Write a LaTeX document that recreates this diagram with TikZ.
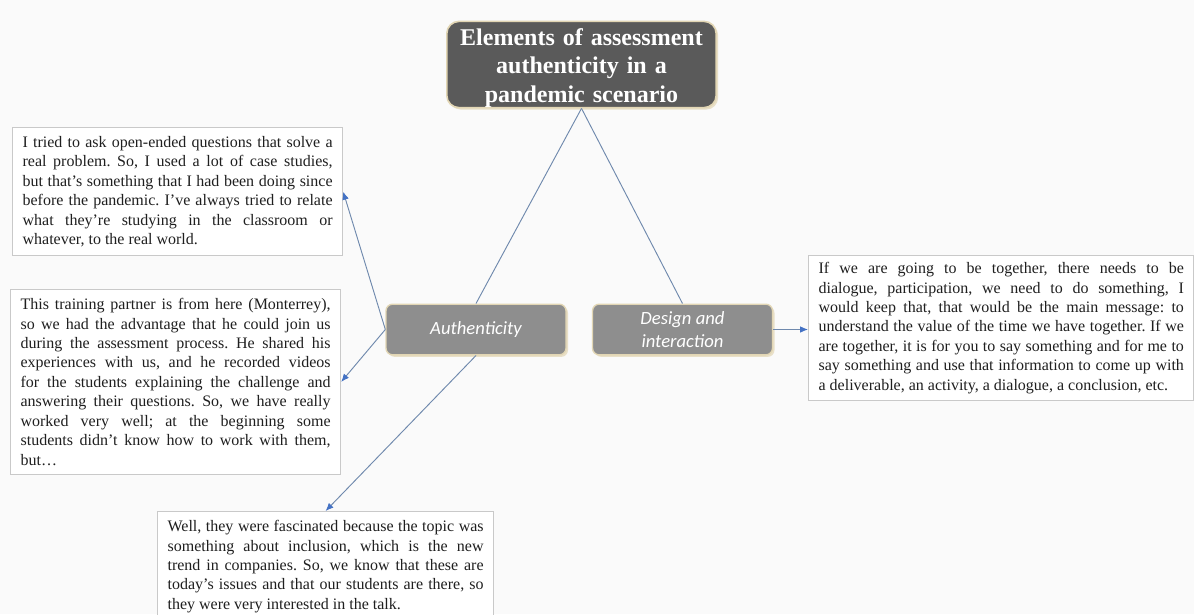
\documentclass[tikz,border=0pt]{standalone}
\usepackage{fontspec}
\setmainfont{Liberation Serif}
\setsansfont{Carlito}
\usetikzlibrary{arrows.meta,shadows}

\definecolor{paper}{HTML}{FAFAFA}
\definecolor{titlegray}{HTML}{5A5A5A}
\definecolor{hubgray}{HTML}{8E8E8E}
\definecolor{glow}{HTML}{E2D6B4}
\definecolor{framegray}{HTML}{C9C9C9}
\definecolor{linkblue}{HTML}{6F89AD}
\definecolor{tipblue}{HTML}{4472C4}

\frenchspacing
\begin{document}
\begin{tikzpicture}[x=0.75pt,y=-0.75pt,
        quote/.style={draw=framegray, line width=0.9pt, fill=white, anchor=north west,
                inner xsep=7.5pt, inner ysep=6.5pt, align=justify, text=black!88,
                font={\fontsize{12}{14.6}\selectfont}},
        hub/.style={draw=glow, line width=1pt, fill=hubgray, rounded corners=5pt,
                minimum width=135pt, minimum height=38pt, align=center, text=white,
                font={\sffamily\itshape\fontsize{14}{17.5}\selectfont},
                drop shadow={shadow xshift=1.5pt, shadow yshift=-1.5pt, fill=glow, opacity=0.7}},
        link/.style={draw=linkblue, line width=0.7pt},
        pointer/.style={link, -{Latex[length=6pt,width=5pt,color=tipblue]}}]
        \useasboundingbox (0,0) rectangle (1194,614);
        \clip (0,0) rectangle (1194,614);
        \fill[paper] (0,0) rectangle (1194,614);

        \node[draw=glow, line width=1.2pt, fill=titlegray, rounded corners=9pt,
                minimum width=202pt, minimum height=63.75pt, inner ysep=0pt,
                text width=195pt, align=center,
                text=white, font={\bfseries\fontsize{18}{21.4}\selectfont},
                drop shadow={shadow xshift=1.5pt, shadow yshift=-1.5pt, fill=glow, opacity=0.7}]
                (title) at (581.5, 64.5) {\rule{0pt}{18pt}Elements of assessment\\authenticity in a\\pandemic scenario};

        \node[hub] (auth) at (476, 329.5) {Authenticity};
        \node[hub] (design) at (682.5, 329.5) {Design and\\interaction};

        \node[quote, text width=232.5pt] (quote1) at (12, 127) {I tried to ask open-ended questions that solve a\linebreak
                real problem. So, I used a lot of case studies,\linebreak
                but that's something that I had been doing since\linebreak
                before the pandemic. I've always tried to relate\linebreak
                what they're studying in the classroom or\linebreak
                whatever, to the real world.};
        \node[quote, text width=232.5pt] (quote2) at (10, 289) {This training partner is from here (Monterrey),\linebreak
                so we had the advantage that he could join us\linebreak
                during the assessment process. He shared his\linebreak
                experiences with us, and he recorded videos\linebreak
                for the students explaining the challenge and\linebreak
                answering their questions. So, we have really\linebreak
                worked very well; at the beginning some\linebreak
                students didn't know how to work with them,\linebreak
                but\ldots};
        \node[quote, text width=237pt] (quote3) at (157, 511) {Well, they were fascinated because the topic was\linebreak
                something about inclusion, which is the new\linebreak
                trend in companies. So, we know that these are\linebreak
                today's issues and that our students are there, so\linebreak
                they were very interested in the talk.};
        \node[quote, text width=274pt, inner ysep=5pt] (quote4) at (808, 255) {If we are going to be together, there needs to be\linebreak
                dialogue, participation, we need to do something, I\linebreak
                would keep that, that would be the main message: to\linebreak
                understand the value of the time we have together. If we\linebreak
                are together, it is for you to say something and for me to\linebreak
                say something and use that information to come up with\linebreak
                a deliverable, an activity, a dialogue, a conclusion, etc.};

        \draw[link] (title.south) -- (auth.north);
        \draw[link] (title.south) -- (design.north);
        \draw[pointer] (auth.west) -- (quote1.east);
        \draw[pointer] (auth.west) -- (quote2.east);
        \draw[pointer] (auth.south) -- (quote3.north);
        \draw[pointer] (design.east) -- (design.east -| quote4.west);
\end{tikzpicture}
\end{document}
